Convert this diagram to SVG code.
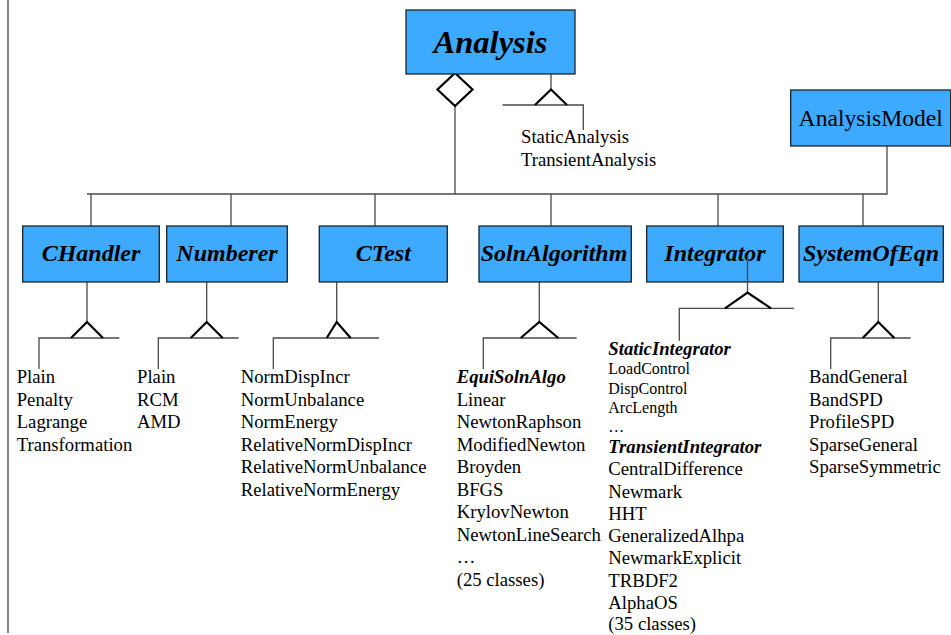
<svg xmlns="http://www.w3.org/2000/svg" width="951" height="635" viewBox="0 0 951 635">
<style>
.box{fill:#3DAAFE;stroke:#222;stroke-width:1.3}
.con{fill:none;stroke:#4a4a4a;stroke-width:1.3}
.tri{fill:none;stroke:#000;stroke-width:2.2;stroke-linejoin:miter}
.dia{fill:#fff;stroke:#000;stroke-width:2.2}
.t{font-family:"Liberation Serif","Times New Roman",serif;fill:#000}
.bi{font-weight:bold;font-style:italic}
.lst{font-size:18.7px}
.sm{font-size:16px}
.lbl{font-size:24px;text-anchor:middle}
</style>
<rect width="951" height="635" fill="#fff"/>
<line x1="8" y1="0" x2="8" y2="633" stroke="#444" stroke-width="1.3"/>

<g id="connectors">
  <line class="con" x1="455" y1="106" x2="455" y2="194"/>
  <polyline class="con" points="87,194 887,194 887,146"/>
  <line class="con" x1="91" y1="194" x2="91" y2="226"/>
  <line class="con" x1="231" y1="194" x2="231" y2="226"/>
  <line class="con" x1="375" y1="194" x2="375" y2="226"/>
  <line class="con" x1="551" y1="194" x2="551" y2="226"/>
  <line class="con" x1="718" y1="194" x2="718" y2="226"/>
  <line class="con" x1="863" y1="194" x2="863" y2="226"/>
  <polygon class="dia" points="455,73 472.5,89.5 455,106 437.5,89.5"/>
  <line class="con" x1="551" y1="74" x2="551" y2="90"/>
  <polyline class="con" points="502.5,105 583.3,105 583.3,130"/>
  <polyline class="tri" points="535,105 551,89.5 567,105"/>
  <line class="con" x1="87" y1="282" x2="87" y2="322"/>
  <polyline class="con" points="119.3,338 39,338 39,369"/>
  <polyline class="tri" points="71,338 87,322 103,338"/>
  <line class="con" x1="206.7" y1="282" x2="206.7" y2="322"/>
  <polyline class="con" points="238.7,338 158.3,338 158.3,369"/>
  <polyline class="tri" points="190.7,338 206.7,322 222.7,338"/>
  <line class="con" x1="336.7" y1="282" x2="336.7" y2="322"/>
  <polyline class="con" points="379,338 273.3,338 273.3,369"/>
  <polyline class="tri" points="326.7,338 336.7,322 350.7,338"/>
  <line class="con" x1="539.3" y1="282" x2="539.3" y2="322"/>
  <polyline class="con" points="576.7,338 483.3,338 483.3,369"/>
  <polyline class="tri" points="520.7,338 539.3,322 558.3,338"/>
  <polyline class="con" points="794,308.3 679.3,308.3 679.3,340.7"/>
  <line class="con" x1="878.3" y1="282" x2="878.3" y2="322"/>
  <polyline class="con" points="910.7,338 830.7,338 830.7,369"/>
  <polyline class="tri" points="862.7,338 878.3,322 894.3,338"/>
</g>

<g id="Analysis">
  <rect class="box" x="406" y="10" width="169" height="64"/>
  <text class="t bi" x="490.5" y="53" font-size="32.5" text-anchor="middle">Analysis</text>
</g>
<g id="Analysis-subclasses">
  <text class="t lst" x="521" y="143">StaticAnalysis</text>
  <text class="t lst" x="521" y="165.5">TransientAnalysis</text>
</g>
<g id="AnalysisModel">
  <rect class="box" x="790.7" y="90" width="160" height="56"/>
  <text class="t" x="870.7" y="126" font-size="23.6" text-anchor="middle">AnalysisModel</text>
</g>

<g id="CHandler">
  <rect class="box" x="22.7" y="226" width="136.6" height="56"/>
  <text class="t bi lbl" x="91" y="261">CHandler</text>
</g>
<g id="Numberer">
  <rect class="box" x="166.7" y="226" width="120.6" height="56"/>
  <text class="t bi lbl" x="227" y="261">Numberer</text>
</g>
<g id="CTest">
  <rect class="box" x="319.3" y="226" width="128" height="56"/>
  <text class="t bi lbl" x="383.3" y="261">CTest</text>
</g>
<g id="SolnAlgorithm">
  <rect class="box" x="479" y="226" width="152.3" height="56"/>
  <text class="t bi lbl" x="554" y="261">SolnAlgorithm</text>
</g>
<g id="Integrator">
  <rect class="box" x="646.7" y="226" width="136.6" height="56"/>
  <text class="t bi lbl" x="715" y="261">Integrator</text>
  <line class="con" x1="747.5" y1="256.5" x2="747.5" y2="292.5"/>
  <polyline class="tri" points="725,308.3 747.5,292.5 771,308.3"/>
</g>
<g id="SystemOfEqn">
  <rect class="box" x="799" y="226" width="144.3" height="56"/>
  <text class="t bi lbl" x="871" y="261">SystemOfEqn</text>
</g>

<g id="CHandler-list" class="t lst">
  <text x="16.7" y="383">Plain</text>
  <text x="16.7" y="405.5">Penalty</text>
  <text x="16.7" y="428">Lagrange</text>
  <text x="16.7" y="450.5">Transformation</text>
</g>
<g id="Numberer-list" class="t lst">
  <text x="137" y="383">Plain</text>
  <text x="137" y="405.5">RCM</text>
  <text x="137" y="428">AMD</text>
</g>
<g id="CTest-list" class="t lst">
  <text x="240.7" y="383">NormDispIncr</text>
  <text x="240.7" y="405.5">NormUnbalance</text>
  <text x="240.7" y="428">NormEnergy</text>
  <text x="240.7" y="450.5">RelativeNormDispIncr</text>
  <text x="240.7" y="473">RelativeNormUnbalance</text>
  <text x="240.7" y="495.5">RelativeNormEnergy</text>
</g>
<g id="SolnAlgorithm-list" class="t lst">
  <text x="456.7" y="383" class="bi">EquiSolnAlgo</text>
  <text x="456.7" y="405.5">Linear</text>
  <text x="456.7" y="428">NewtonRaphson</text>
  <text x="456.7" y="450.5">ModifiedNewton</text>
  <text x="456.7" y="473">Broyden</text>
  <text x="456.7" y="495.5">BFGS</text>
  <text x="456.7" y="518">KrylovNewton</text>
  <text x="456.7" y="540.5">NewtonLineSearch</text>
  <text x="456.7" y="563">…</text>
  <text x="456.7" y="585.5">(25 classes)</text>
</g>
<g id="Integrator-list" class="t">
  <text x="608.3" y="354.5" class="bi lst">StaticIntegrator</text>
  <text x="608.3" y="374.3" class="sm">LoadControl</text>
  <text x="608.3" y="393.5" class="sm">DispControl</text>
  <text x="608.3" y="412.7" class="sm">ArcLength</text>
  <text x="608.3" y="432" class="sm">…</text>
  <text x="608.3" y="452.7" class="bi lst">TransientIntegrator</text>
  <text x="608.3" y="475.2" class="lst">CentralDifference</text>
  <text x="608.3" y="497.5" class="lst">Newmark</text>
  <text x="608.3" y="519.8" class="lst">HHT</text>
  <text x="608.3" y="542" class="lst">GeneralizedAlhpa</text>
  <text x="608.3" y="564.3" class="lst">NewmarkExplicit</text>
  <text x="608.3" y="586.5" class="lst">TRBDF2</text>
  <text x="608.3" y="608.8" class="lst">AlphaOS</text>
  <text x="608.3" y="630" class="lst">(35 classes)</text>
</g>
<g id="SystemOfEqn-list" class="t lst">
  <text x="809" y="383">BandGeneral</text>
  <text x="809" y="405.5">BandSPD</text>
  <text x="809" y="428">ProfileSPD</text>
  <text x="809" y="450.5">SparseGeneral</text>
  <text x="809" y="473">SparseSymmetric</text>
</g>
</svg>
